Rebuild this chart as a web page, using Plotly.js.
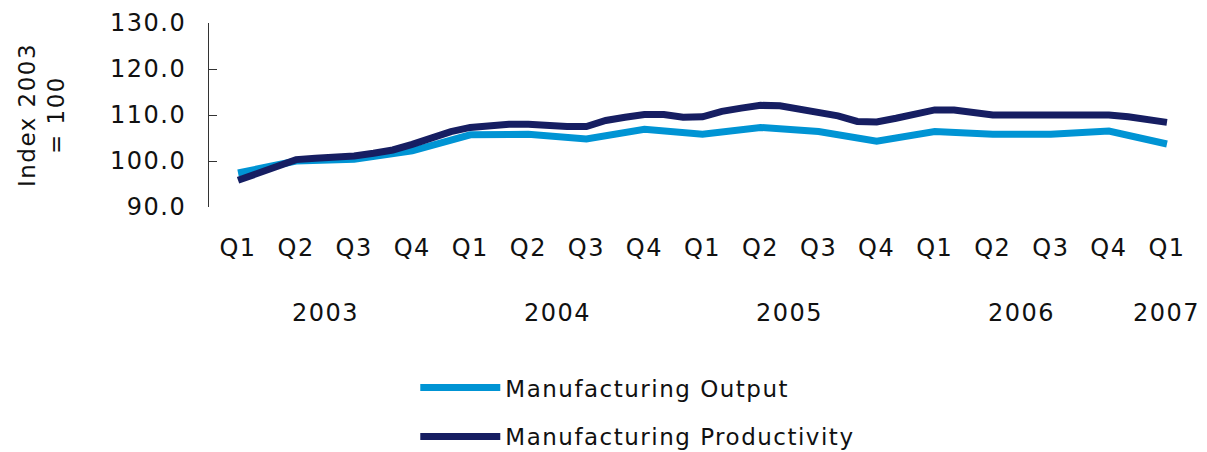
<!DOCTYPE html>
<html>
<head>
<meta charset="utf-8">
<script src="https://cdn.plot.ly/plotly-3.0.1.min.js"></script>
<style>
  html, body { margin: 0; padding: 0; background: #ffffff; }
  #chart { width: 1207px; height: 452px; }
  svg text { letter-spacing: 1.5px; }
</style>
</head>
<body>
<div id="chart"></div>
<script>
// Quarterly categories
const quarterLabels = ["Q1","Q2","Q3","Q4","Q1","Q2","Q3","Q4","Q1","Q2","Q3","Q4","Q1","Q2","Q3","Q4","Q1"];
const quarterYears  = ["2003","2003","2003","2003","2004","2004","2004","2004","2005","2005","2005","2005","2006","2006","2006","2006","2007"];
const yearLabels = ["2003","2004","2005","2006","2007"];

// Manufacturing Output (quarterly, index 2003 = 100)
const outputValues = [97.4, 100.0, 100.4, 102.2, 105.7, 105.8, 104.8, 106.9, 105.8, 107.3, 106.4, 104.3, 106.4, 105.8, 105.8, 106.5, 103.7];

// Manufacturing Productivity (monthly, index 2003 = 100)
const productivityValues = [
  95.8, 97.2, 98.7, 100.3, 100.6, 100.7, 101.1, 101.7, 102.4, 103.6, 105.0, 106.4,
  107.3, 107.7, 108.0, 108.0, 107.7, 107.5, 107.5, 108.8, 109.5, 110.1, 110.1, 109.5,
  109.6, 110.8, 111.5, 112.1, 112.0, 111.3, 110.6, 109.8, 108.6, 108.5, 109.3, 110.3,
  111.1, 111.1, 110.5, 110.0, 110.0, 110.0, 110.0, 110.0, 110.0, 110.0, 109.6, 109.1,
  108.4
];

const seriesNames = ["Manufacturing Output", "Manufacturing Productivity"];
const yTicks = [90, 100, 110, 120, 130];

const quarterX = quarterLabels.map((_, i) => i);
const monthX = productivityValues.map((_, i) => i / 3);

const FONT = "DejaVu Sans, Verdana, sans-serif";
const TXT = "#111111";

const traces = [
  {
    type: "scatter", mode: "lines", name: seriesNames[0],
    x: quarterX, y: outputValues,
    line: { color: "#0094D4", width: 7 },
    legendgroup: "a", hoverinfo: "skip"
  },
  {
    type: "scatter", mode: "lines", name: seriesNames[1],
    x: monthX, y: productivityValues,
    line: { color: "#161E62", width: 7 },
    legendgroup: "b", hoverinfo: "skip"
  }
];

// Year labels centred under their quarters
const yearAnnotations = yearLabels.map(yr => {
  const idx = quarterYears.map((y, i) => y === yr ? i : -1).filter(i => i >= 0);
  const cx = idx.reduce((a, b) => a + b, 0) / idx.length;
  return {
    text: yr, x: cx, xref: "x", y: -0.578, yref: "paper",
    xanchor: "center", yanchor: "middle", showarrow: false,
    font: { family: FONT, size: 24, color: TXT }
  };
});

const layout = {
  width: 1207, height: 452,
  margin: { l: 209, r: 11, t: 23, b: 245, pad: 0 },
  paper_bgcolor: "#ffffff", plot_bgcolor: "#ffffff",
  showlegend: true,
  font: { family: FONT, size: 24, color: TXT },
  xaxis: {
    range: [-0.5, 16.5],
    tickmode: "array", tickvals: quarterX, ticktext: quarterLabels,
    showgrid: false, zeroline: false, showline: false, ticks: "",
    ticklabelstandoff: 24,
    tickfont: { family: FONT, size: 24, color: TXT },
    automargin: false,
    fixedrange: true
  },
  yaxis: {
    range: [90, 130],
    tickmode: "array", tickvals: yTicks, ticktext: yTicks.map(v => v.toFixed(1)),
    showgrid: false, zeroline: false,
    showline: true, linecolor: "#333333", linewidth: 1,
    ticks: "inside", ticklen: 8, tickcolor: "#333333", tickwidth: 1,
    ticklabelstandoff: 17,
    tickfont: { family: FONT, size: 24, color: TXT },
    title: { text: "Index 2003<br>= 100", font: { family: FONT, size: 23, color: TXT }, standoff: 38 },
    automargin: false,
    fixedrange: true
  },
  legend: {
    xref: "paper", yref: "container",
    x: 0.209, xanchor: "left", y: 0.19, yanchor: "top",
    orientation: "v", traceorder: "grouped", tracegroupgap: 16,
    itemwidth: 80,
    font: { family: FONT, size: 23, color: TXT },
    bgcolor: "rgba(0,0,0,0)"
  },
  annotations: yearAnnotations
};

Plotly.newPlot("chart", traces, layout, { displayModeBar: false, staticPlot: true });
</script>
</body>
</html>
